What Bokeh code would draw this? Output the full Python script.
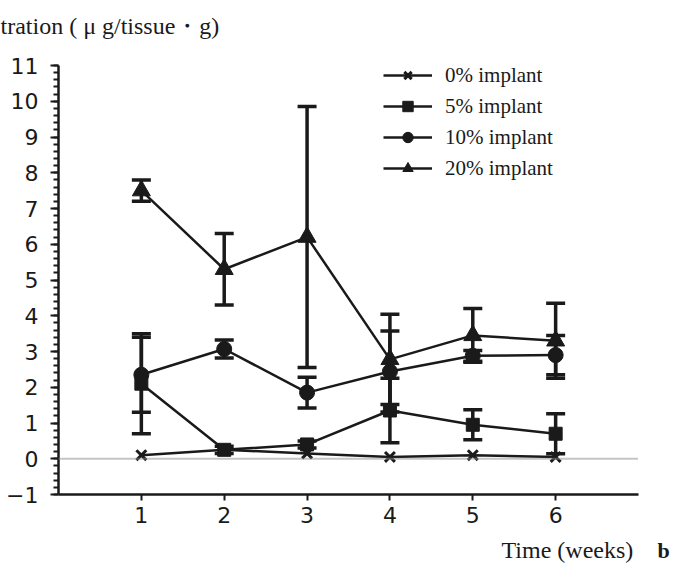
from bokeh.plotting import figure
from bokeh.models import (Range1d, SingleIntervalTicker, FixedTicker, Span, Label,
                          Legend, LegendItem, Whisker, TeeHead, ColumnDataSource)
from bokeh.embed import file_html
from bokeh.resources import INLINE

weeks = [1, 2, 3, 4, 5, 6]
mean_0 = [0.1, 0.25, 0.15, 0.05, 0.1, 0.05]
mean_5 = [2.1, 0.25, 0.4, 1.35, 0.95, 0.7]
sd_5 = [1.4, 0.1, 0.1, 0.9, 0.42, 0.56]
mean_10 = [2.35, 3.07, 1.85, 2.44, 2.88, 2.9]
sd_10 = [1.05, 0.25, 0.43, 1.13, 0.15, 0.55]
mean_20 = [7.5, 5.3, 6.2, 2.78, 3.45, 3.3]
sd_20 = [0.3, 1.0, 3.65, 1.26, 0.75, 1.05]
series_labels = ["0% implant", "5% implant", "10% implant", "20% implant"]
x_ticks = [1, 2, 3, 4, 5, 6]
y_title = "tration ( \u03bc g/tissue\u30fbg)"
x_title = "Time (weeks)"
panel_tag = "b"

SANS = "DejaVu Sans"
SERIF = "Liberation Serif"
INK = "#1a1a1a"

p = figure(width=679, height=563, output_backend="svg", toolbar_location=None,
           x_range=Range1d(0, 7), y_range=Range1d(-1, 11),
           min_border_left=58, min_border_right=41, min_border_top=65, min_border_bottom=69)
p.outline_line_color = None
p.xgrid.visible = False
p.ygrid.visible = False

for ax in (p.xaxis[0], p.yaxis[0]):
    ax.axis_line_color = INK
    ax.axis_line_width = 2.5
    ax.major_tick_line_color = INK
    ax.major_tick_line_width = 2
    ax.major_tick_in = 0
    ax.major_label_text_font = SANS
    ax.major_label_text_font_size = "22px"
    ax.major_label_text_color = INK

p.yaxis[0].ticker = SingleIntervalTicker(interval=1, num_minor_ticks=5)
p.yaxis[0].major_tick_out = 8
p.yaxis[0].minor_tick_out = 5
p.yaxis[0].minor_tick_in = 0
p.yaxis[0].minor_tick_line_color = INK
p.yaxis[0].minor_tick_line_width = 2
p.yaxis[0].major_label_standoff = 12

xa = p.xaxis[0]
xa.ticker = FixedTicker(ticks=x_ticks, minor_ticks=[])
xa.major_tick_out = 6
xa.major_label_standoff = 6

p.add_layout(Span(location=0, dimension="width", line_color="#8a8a8a",
                  line_width=2, line_dash="1 1"))

def errbars(mean, sd):
    src = ColumnDataSource(dict(x=weeks,
                                lo=[m - s for m, s in zip(mean, sd)],
                                hi=[m + s for m, s in zip(mean, sd)]))
    p.add_layout(Whisker(source=src, base="x", lower="lo", upper="hi", dimension="height",
                         line_color=INK, line_width=3.5,
                         upper_head=TeeHead(size=19, line_width=3.5, line_color=INK),
                         lower_head=TeeHead(size=19, line_width=3.5, line_color=INK)))

errbars(mean_5, sd_5)
errbars(mean_10, sd_10)
errbars(mean_20, sd_20)

items = []
specs = [(mean_0, "x", 14), (mean_5, "square", 13), (mean_10, "circle", 15), (mean_20, "triangle", 18)]
for (mean, marker, size), lab in zip(specs, series_labels):
    ln = p.line(weeks, mean, line_color=INK, line_width=2.5)
    if marker == "x":
        sc = p.scatter(weeks, mean, marker=marker, size=size, line_color=INK, line_width=3)
    else:
        sc = p.scatter(weeks, mean, marker=marker, size=size, fill_color=INK, line_color=INK)
    items.append(LegendItem(label=lab, renderers=[ln, sc]))

p.add_layout(Legend(items=items, location=(325, 313), glyph_width=49, glyph_height=26,
                    spacing=5, padding=0, margin=0, label_standoff=13, border_line_color=None,
                    background_fill_alpha=0, label_text_font=SERIF,
                    label_text_font_size="21px", label_text_color=INK))

p.add_layout(Label(x=-58, y=27, x_units="screen", y_units="screen", text=y_title,
                   text_font=SERIF, text_font_size="24px", text_color=INK), "above")

p.add_layout(Label(x=443, y=-11, x_units="screen", y_units="screen", text=x_title,
                   text_font=SERIF, text_font_size="24px", text_color=INK), "below")

p.add_layout(Label(x=19, y=-68, x_units="screen", y_units="screen", text=panel_tag,
                   text_font=SERIF, text_font_style="bold", text_font_size="22px",
                   text_color=INK), "right")

open("out.html", "w").write(file_html(p, INLINE))
